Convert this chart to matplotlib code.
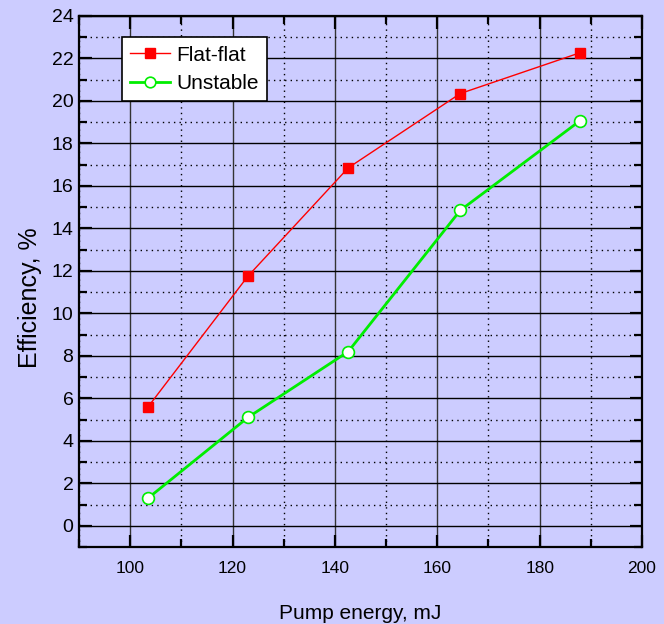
import numpy as np
import matplotlib.pyplot as plt
from matplotlib.ticker import MultipleLocator

plt.rcParams['font.family'] = ['Liberation Sans', 'DejaVu Sans']

energy_ff = [103.5, 123.0, 142.6, 164.5, 187.9]
eff_ff = [5.6, 11.75, 16.85, 20.35, 22.27]
energy_un = [103.5, 123.0, 142.6, 164.5, 187.9]
eff_un = [1.3, 5.1, 8.2, 14.85, 19.07]

bg = '#ccccff'
fig = plt.figure(figsize=(6.64, 6.24), dpi=100, facecolor=bg)
ax = fig.add_axes([79/664, 1-547/624, (642-79)/664, (547-16)/624], facecolor=bg)

ax.set_xlim(90, 200)
ax.set_ylim(-1, 24)
ax.xaxis.set_major_locator(MultipleLocator(20))
ax.xaxis.set_minor_locator(MultipleLocator(10))
ax.yaxis.set_major_locator(MultipleLocator(2))
ax.yaxis.set_minor_locator(MultipleLocator(1))

ax.grid(which='major', axis='y', color='black', linewidth=1.0, linestyle='-', zorder=0)
ax.grid(which='major', axis='x', color='#333333', linewidth=1.0, linestyle='-', zorder=0)
ax.grid(which='minor', color='black', linewidth=1.0, linestyle=(0, (1, 3)), zorder=0)
ax.set_axisbelow(True)

for s in ax.spines.values():
    s.set_linewidth(1.6)
ax.tick_params(which='both', direction='in', top=True, right=True, width=1.6)
ax.tick_params(which='major', length=9)
ax.tick_params(which='minor', length=6)
ax.tick_params(axis='y', labelsize=14, pad=4)
ax.tick_params(axis='x', labelsize=12.5, pad=10)

ax.plot(energy_ff, eff_ff, color='red', linewidth=1, marker='s', markersize=7.5,
        markerfacecolor='red', markeredgecolor='red', label='Flat-flat')
ax.plot(energy_un, eff_un, color='#00ee00', linewidth=2, marker='o', markersize=8.5,
        markerfacecolor='white', markeredgecolor='#00ee00', markeredgewidth=1.2,
        label='Unstable')

ax.set_xlabel('Pump energy, mJ', fontsize=15, labelpad=20)
ax.set_ylabel('Efficiency, %', fontsize=18)
ax.yaxis.set_label_coords(-0.065, 0.469)

leg = ax.legend(loc='upper left', bbox_to_anchor=(0.076, 0.96), fontsize=15,
                fancybox=False, framealpha=1, edgecolor='black',
                borderpad=0.4, handlelength=1.9, handletextpad=0.3,
                labelspacing=0.45, borderaxespad=0, markerscale=0.9)
leg.get_frame().set_linewidth(1.2)

fig.savefig('out.png', dpi=100, facecolor=bg)
